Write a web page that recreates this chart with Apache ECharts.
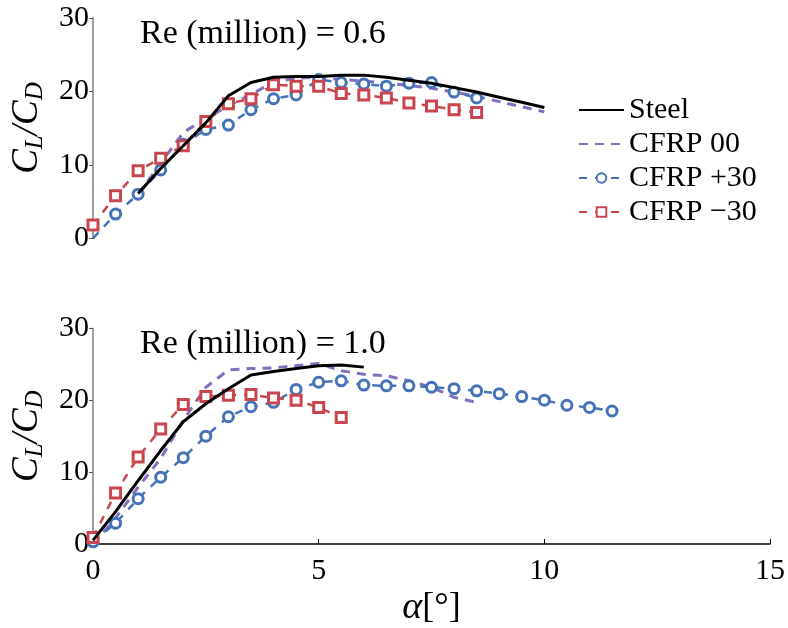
<!DOCTYPE html>
<html>
<head>
<meta charset="utf-8">
<script src="https://cdn.jsdelivr.net/npm/echarts@6/dist/echarts.min.js"></script>
<style>
  html, body { margin: 0; padding: 0; background: #fff; }
  #chart { width: 788px; height: 628px; }
</style>
</head>
<body>
<div id="chart"></div>
<script>
// Angle of attack (degrees) for each measured curve
const alphaSteelTop = [1, 1.5, 2, 2.5, 3, 3.5, 4, 4.5, 5, 5.5, 6, 6.5, 7, 7.5, 8, 8.5, 9, 9.5, 10];
const alphaCfrp00Top = [1, 1.5, 2, 2.5, 3, 3.5, 4, 4.5, 5, 5.5, 6, 6.5, 7, 7.5, 8, 8.5, 9, 9.5, 10];
const alphaPlusTop = [0, 0.5, 1, 1.5, 2, 2.5, 3, 3.5, 4, 4.5, 5, 5.5, 6, 6.5, 7, 7.5, 8, 8.5];
const alphaMinusTop = [0, 0.5, 1, 1.5, 2, 2.5, 3, 3.5, 4, 4.5, 5, 5.5, 6, 6.5, 7, 7.5, 8, 8.5];

const alphaSteelBot = [0, 0.5, 1, 1.5, 2, 2.5, 3, 3.5, 4, 4.5, 5, 5.5, 6];
const alphaCfrp00Bot = [0, 0.5, 1, 1.5, 2, 2.5, 3, 3.5, 4, 4.5, 5, 5.5, 6, 6.5, 7, 7.5, 8, 8.5];
const alphaPlusBot = [0, 0.5, 1, 1.5, 2, 2.5, 3, 3.5, 4, 4.5, 5, 5.5, 6, 6.5, 7, 7.5, 8, 8.5, 9, 9.5, 10, 10.5, 11, 11.5];
const alphaMinusBot = [0, 0.5, 1, 1.5, 2, 2.5, 3, 3.5, 4, 4.5, 5, 5.5];

// Lift-to-drag ratio, Re = 0.6 million
const steelTop = [6.1, 9.5, 12.6, 15.7, 19.4, 21.2, 21.9, 22.0, 22.0, 22.2, 22.2, 21.9, 21.5, 21.1, 20.5, 19.9, 19.2, 18.5, 17.8];
const cfrp00Top = [6.0, 10.2, 14.4, 16.3, 18.0, 19.6, 21.2, 21.8, 21.9, 21.6, 21.4, 21.1, 20.8, 20.4, 19.9, 19.3, 18.6, 17.9, 17.2];
const cfrpPlusTop = [0, 3.3, 6.0, 9.3, 12.8, 14.8, 15.4, 17.5, 19.0, 19.5, 21.6, 21.2, 21.0, 20.7, 21.1, 21.2, 19.9, 19.1];
const cfrpMinusTop = [1.8, 5.8, 9.2, 10.9, 12.6, 15.9, 18.3, 19.0, 20.9, 20.7, 20.7, 19.7, 19.5, 19.1, 18.4, 18.0, 17.5, 17.1];

// Lift-to-drag ratio, Re = 1.0 million
const steelBot = [0.5, 4.5, 8.8, 13.0, 17.0, 19.5, 21.6, 23.5, 24.0, 24.4, 24.8, 24.9, 24.6];
const cfrp00Bot = [0, 3.6, 7.9, 11.9, 17.2, 21.8, 24.2, 24.4, 24.5, 24.8, 25.1, 24.1, 23.6, 23.4, 22.7, 21.8, 20.4, 19.7];
const cfrpPlusBot = [0.3, 2.9, 6.3, 9.3, 12.0, 15.0, 17.7, 19.1, 19.7, 21.5, 22.5, 22.7, 22.1, 22.0, 22.0, 21.8, 21.6, 21.3, 20.9, 20.5, 20.0, 19.3, 19.0, 18.5];
const cfrpMinusBot = [0.9, 7.1, 12.1, 16.0, 19.4, 20.5, 20.7, 20.8, 20.3, 20.0, 19.0, 17.6];

const yTicks = [0, 10, 20, 30];
const xTicks = [0, 5, 10, 15];
const panelTitles = ['Re (million) = 0.6', 'Re (million) = 1.0'];
const seriesNames = ['Steel', 'CFRP 00', 'CFRP +30', 'CFRP \u221230'];

const zip = (xs, ys) => xs.map((x, i) => [x, ys[i]]);

const SERIF = "'Liberation Serif', 'Times New Roman', 'DejaVu Serif', serif";
const COLORS = { steel: '#000000', c00: '#8370bd', plus: '#4672b8', minus: '#c9464f' };

function styleFor(kind) {
  if (kind === 'steel') {
    return { color: COLORS.steel, showSymbol: false, symbol: 'none',
      lineStyle: { color: COLORS.steel, width: 3, type: 'solid' } };
  }
  if (kind === 'c00') {
    return { color: COLORS.c00, showSymbol: false, symbol: 'none',
      lineStyle: { color: COLORS.c00, width: 3, type: [9, 7] } };
  }
  if (kind === 'plus') {
    return { color: COLORS.plus, symbol: 'circle', symbolSize: 10, showSymbol: true,
      itemStyle: { color: '#ffffff', borderColor: COLORS.plus, borderWidth: 3 },
      lineStyle: { color: COLORS.plus, width: 2.5, type: [8, 8] } };
  }
  return { color: COLORS.minus, symbol: 'rect', symbolSize: 10, showSymbol: true,
    itemStyle: { color: '#ffffff', borderColor: COLORS.minus, borderWidth: 3 },
    lineStyle: { color: COLORS.minus, width: 2.5, type: [8, 8] } };
}

function line(name, kind, idx, data) {
  return Object.assign({
    name: name, type: 'line', xAxisIndex: idx, yAxisIndex: idx, data: data,
    animation: false, clip: false, silent: true, z: kind === 'steel' ? 3 : 2
  }, styleFor(kind));
}

// The +30 curve at Re 0.6 starts on the axis corner without a visible marker
function hideFirstMarker(data) {
  return data.map((d, i) => (i === 0 ? { value: d, symbol: 'none' } : d));
}

const yName = '{c|C}{s|L}{c|/C}{s|D}';
const yNameStyle = {
  color: '#000', fontFamily: SERIF, fontSize: 36, fontStyle: 'italic',
  rich: {
    c: { fontFamily: SERIF, fontSize: 37, fontStyle: 'italic', color: '#000' },
    s: { fontFamily: SERIF, fontSize: 25, fontStyle: 'italic', color: '#000', padding: [16, 0, 0, 0] }
  }
};

function yAxis(gridIndex) {
  return {
    type: 'value', gridIndex: gridIndex, min: 0, max: 30, interval: 10,
    name: yName, nameLocation: 'middle', nameRotate: 90, nameGap: 44,
    nameTextStyle: yNameStyle,
    axisLine: { show: true, lineStyle: { color: '#808080', width: 1.5 } },
    axisTick: { show: true, inside: false, length: 4, lineStyle: { color: '#555', width: 1 } },
    axisLabel: { color: '#000', fontFamily: SERIF, fontSize: 30, margin: 4,
      formatter: v => (yTicks.includes(v) ? String(v) : '') },
    splitLine: { show: false }
  };
}

const legendData = seriesNames.map(n => (
  n === 'Steel' || n === 'CFRP 00' ? { name: n, itemStyle: { opacity: 0 } } : { name: n }
));

const titleStyle = { fontFamily: SERIF, fontSize: 34, fontWeight: 'normal', color: '#000' };

const option = {
  backgroundColor: '#ffffff',
  animation: false,
  title: [
    { text: panelTitles[0], left: 135, top: 12, textStyle: titleStyle },
    { text: panelTitles[1], left: 135, top: 322, textStyle: titleStyle }
  ],
  legend: {
    orient: 'vertical', left: 573, top: 90, itemWidth: 45, itemHeight: 12, itemGap: 4,
    data: legendData,
    textStyle: { fontFamily: SERIF, fontSize: 30, color: '#000' },
    selectedMode: false
  },
  grid: [
    { left: 93, right: 18, top: 17.8, height: 220.5 },
    { left: 93, right: 18, top: 328.3, height: 220 }
  ],
  xAxis: [
    { type: 'value', gridIndex: 0, min: 0, max: 15, interval: 5, show: false },
    { type: 'value', gridIndex: 1, min: 0, max: 15, interval: 5,
      name: '{a|\u03b1}{b|[\u00b0]}', nameLocation: 'middle', nameGap: 45,
      nameTextStyle: { color: '#000', fontFamily: SERIF, fontSize: 34,
        rich: { a: { fontFamily: SERIF, fontSize: 38, fontStyle: 'italic', color: '#000' },
                b: { fontFamily: SERIF, fontSize: 36, color: '#000' } } },
      axisLine: { show: true, lineStyle: { color: '#000', width: 1.5 } },
      axisTick: { show: true, inside: true, length: 5, lineStyle: { color: '#000', width: 1 } },
      axisLabel: { color: '#000', fontFamily: SERIF, fontSize: 30, margin: 12,
        formatter: v => (xTicks.includes(v) ? String(v) : '') },
      splitLine: { show: false } }
  ],
  yAxis: [yAxis(0), yAxis(1)],
  series: [
    line(seriesNames[0], 'steel', 0, zip(alphaSteelTop, steelTop)),
    line(seriesNames[1], 'c00', 0, zip(alphaCfrp00Top, cfrp00Top)),
    line(seriesNames[2], 'plus', 0, hideFirstMarker(zip(alphaPlusTop, cfrpPlusTop))),
    line(seriesNames[3], 'minus', 0, zip(alphaMinusTop, cfrpMinusTop)),
    line(seriesNames[0], 'steel', 1, zip(alphaSteelBot, steelBot)),
    line(seriesNames[1], 'c00', 1, zip(alphaCfrp00Bot, cfrp00Bot)),
    line(seriesNames[2], 'plus', 1, zip(alphaPlusBot, cfrpPlusBot)),
    line(seriesNames[3], 'minus', 1, zip(alphaMinusBot, cfrpMinusBot))
  ]
};

const chart = echarts.init(document.getElementById('chart'), null, { renderer: 'canvas' });
chart.setOption(option);
</script>
</body>
</html>
